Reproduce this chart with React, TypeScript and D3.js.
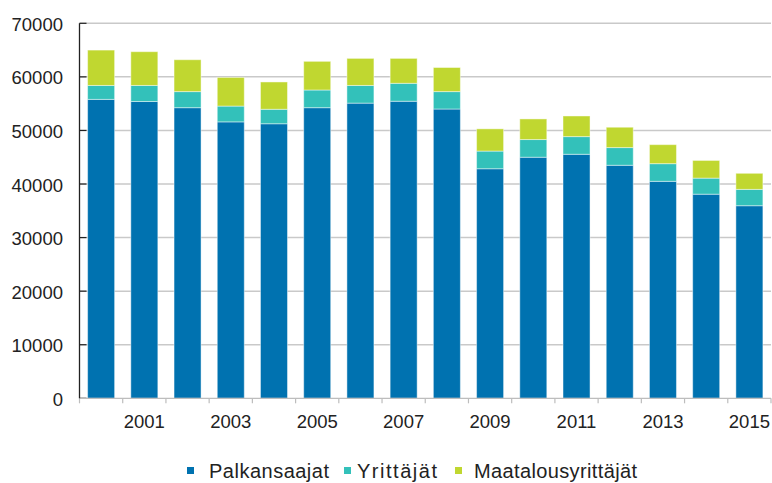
import React from "react";
import * as d3 from "d3";

const years = ["2000","2001","2002","2003","2004","2005","2006","2007","2008","2009","2010","2011","2012","2013","2014","2015"];
const palkansaajat = [55800,55400,54250,51600,51250,54250,55100,55450,54000,42850,45000,45550,43500,40500,38100,35950];
const yrittajat =    [2600,3000,3000,2950,2700,3300,3300,3350,3250,3300,3300,3300,3300,3300,3000,3050];
const maatalous =    [6600,6300,5950,5350,5100,5350,5050,4650,4500,4150,3850,3850,3800,3550,3300,3000];
const seriesNames = ["Palkansaajat","Yrittäjät","Maatalousyrittäjät"];
const colors = ["#0072B0","#33C1BA","#C0D730"];
const yTicks = [0,10000,20000,30000,40000,50000,60000,70000];
const xLabelYears = ["2001","2003","2005","2007","2009","2011","2013","2015"];

const W = 772, H = 483;
const left = 79.5, right = 771, top = 23.3, bottom = 398.3;
const font = "'Liberation Sans', Arial, sans-serif";

export default function App() {
  const x = d3.scaleBand<string>().domain(years).range([left, right]).paddingInner(0.375).paddingOuter(0.1875);
  const y = d3.scaleLinear().domain([0, 70000]).range([bottom, top]);
  const rows = years.map((yr, i) => ({ year: yr, s0: palkansaajat[i], s1: yrittajat[i], s2: maatalous[i] }));
  const stack = d3.stack<any>().keys(["s0","s1","s2"])(rows);
  const step = x.step();
  const boundaries = d3.range(years.length + 1).map(i => left + i * step);

  const legendItems = [
    { sx: 187, tx: 209, tl: 120 },
    { sx: 344, tx: 357, tl: 80 },
    { sx: 455, tx: 474, tl: 163 },
  ];

  return (
    <svg width={W} height={H} style={{ position: "fixed", left: 0, top: 0, background: "#fff" }} fontFamily={font}>
      {yTicks.map(t => (
        <g key={t}>
          {t > 0 && <line x1={left} x2={right} y1={y(t)} y2={y(t)} stroke="#c9c9c9" strokeWidth={1.5} />}
          <text x={63} y={y(t) + 1} textAnchor="end" dominantBaseline="central" fontSize={18.5} fill="#222">{t}</text>
        </g>
      ))}
      {stack.map((layer, si) => (
        <g key={si} fill={colors[si]}>
          {layer.map((d, i) => (
            <rect key={i} x={x(years[i])!} width={x.bandwidth()} y={y(d[1])} height={y(d[0]) - y(d[1])}
              stroke="#ffffff" strokeOpacity={0.45} strokeWidth={1} />
          ))}
        </g>
      ))}
      {yTicks.map(t => (
        <line key={"yt" + t} x1={left} x2={left + 7} y1={y(t)} y2={y(t)} stroke="#222" strokeWidth={1.2} />
      ))}
      <line x1={left} x2={right} y1={bottom} y2={bottom} stroke="#bdbdbd" strokeWidth={1.2} />
      {boundaries.map((bx, i) => (
        <line key={"xt" + i} x1={bx} x2={bx} y1={bottom} y2={bottom + 5} stroke="#bdbdbd" strokeWidth={1.2} />
      ))}
      <line x1={left} x2={left} y1={top} y2={bottom} stroke="#222" strokeWidth={1.3} />
      {xLabelYears.map(yr => (
        <text key={yr} x={x(yr)! + x.bandwidth() / 2} y={421} textAnchor="middle" dominantBaseline="central" fontSize={18.5} fill="#222">{yr}</text>
      ))}
      {seriesNames.map((name, i) => (
        <g key={name}>
          <rect x={legendItems[i].sx} y={467} width={7} height={7} fill={colors[i]} />
          <text x={legendItems[i].tx} y={471} dominantBaseline="central" fontSize={20} fill="#222"
            textLength={legendItems[i].tl} lengthAdjust="spacing">{name}</text>
        </g>
      ))}
    </svg>
  );
}
